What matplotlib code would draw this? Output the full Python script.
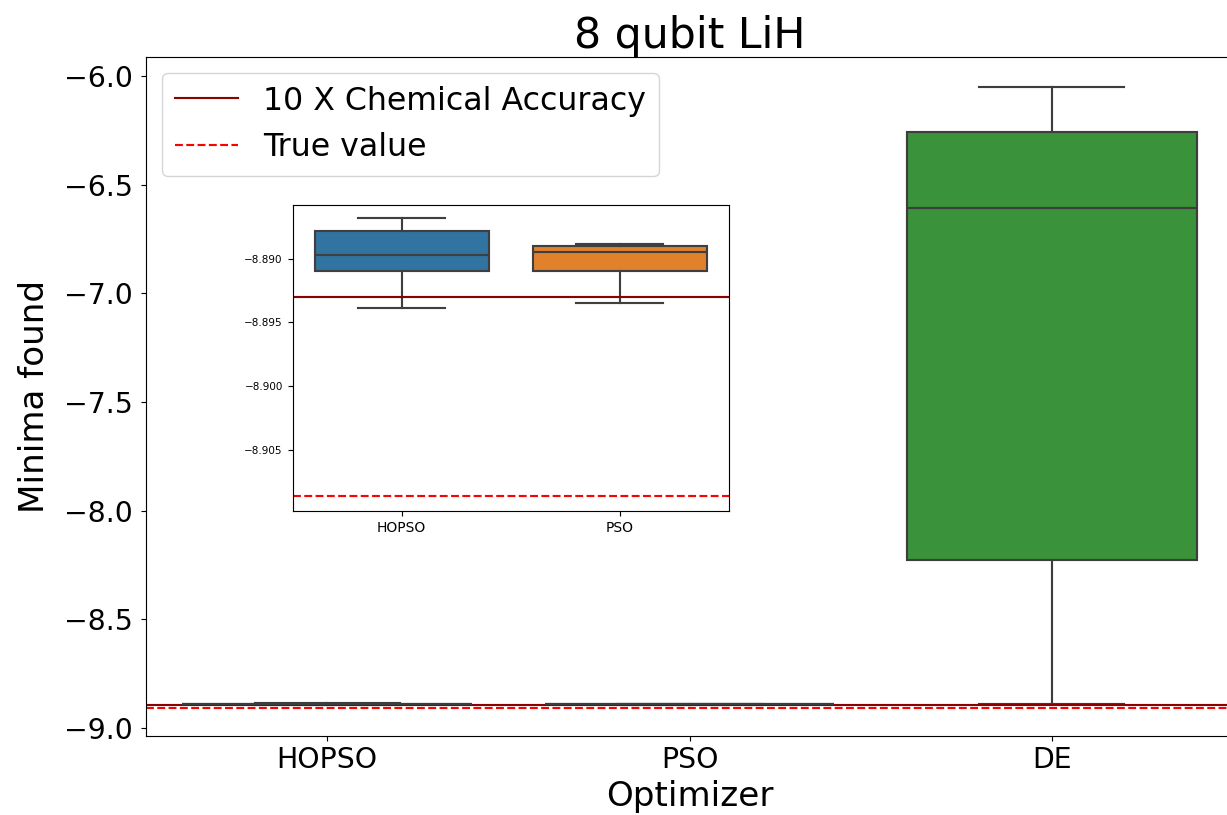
import matplotlib
matplotlib.use("Agg")

import matplotlib.pyplot as plt

# box statistics per optimizer (lower whisker, q1, median, q3, upper whisker)
optimizers = ["HOPSO", "PSO", "DE"]
whislo = [-8.89386, -8.89347, -8.8900]
q1 = [-8.89094, -8.89099, -8.2270]
med = [-8.88971, -8.88947, -6.6070]
q3 = [-8.88783, -8.88898, -6.2560]
whishi = [-8.88683, -8.88882, -6.0520]

box_colors = ["#3274a1", "#e1812c", "#3a923a"]

true_value = -8.9086
chem_acc_10x = -8.8930

# inset only shows the two PSO variants
inset_n = 2

dpi = 102.25
fig = plt.figure(figsize=(1227 / dpi, 815 / dpi), dpi=dpi)


def draw_boxes(ax, names, colors, gray):
    stats = []
    for i, name in enumerate(names):
        stats.append({"label": name, "whislo": whislo[i], "q1": q1[i],
                      "med": med[i], "q3": q3[i], "whishi": whishi[i]})
    bp = ax.bxp(stats, positions=range(len(names)), widths=0.8,
                patch_artist=True, showfliers=False,
                boxprops=dict(edgecolor=gray, linewidth=1.5),
                medianprops=dict(color=gray, linewidth=1.5),
                whiskerprops=dict(color=gray, linewidth=1.5),
                capprops=dict(color=gray, linewidth=1.5))
    for patch, c in zip(bp["boxes"], colors):
        patch.set_facecolor(c)
    return bp


#main plot
ax = fig.add_axes([146 / 1227, 1 - 736 / 815, 1087 / 1227, 679 / 815])
draw_boxes(ax, optimizers, box_colors, "#3d3d3d")
ax.axhline(chem_acc_10x, color="darkred", linewidth=1.5, label="10 X Chemical Accuracy")
ax.axhline(true_value, color="red", linestyle="--", linewidth=1.5, label="True value")
ax.set_xlim(-0.5, 2.5)
ax.set_ylim(-9.0368, -5.9126)
ax.set_title("8 qubit LiH", fontsize=30)
ax.set_xlabel("Optimizer", fontsize=24)
ax.set_ylabel("Minima found", fontsize=24, labelpad=9)
ax.tick_params(axis="both", labelsize=20)
ax.tick_params(axis="y", pad=6)
ax.legend(loc="upper left", fontsize=22.3)

#zoomed inset for HOPSO and PSO
axin = fig.add_axes([292.7 / 1227, 1 - 510.7 / 815, 436 / 1227, 306 / 815])
draw_boxes(axin, optimizers[:inset_n], box_colors[:inset_n], "#3f3f3f")
axin.axhline(chem_acc_10x, color="darkred", linewidth=1.5)
axin.axhline(true_value, color="red", linestyle="--", linewidth=1.5)
axin.set_xlim(-0.5, 1.5)
axin.set_ylim(-8.90975, -8.88577)
axin.set_yticks([-8.890, -8.895, -8.900, -8.905])
axin.tick_params(axis="y", labelsize=7.3)
axin.tick_params(axis="x", labelsize=9.8)

#save as png
fig.savefig("out.png", dpi=dpi)
